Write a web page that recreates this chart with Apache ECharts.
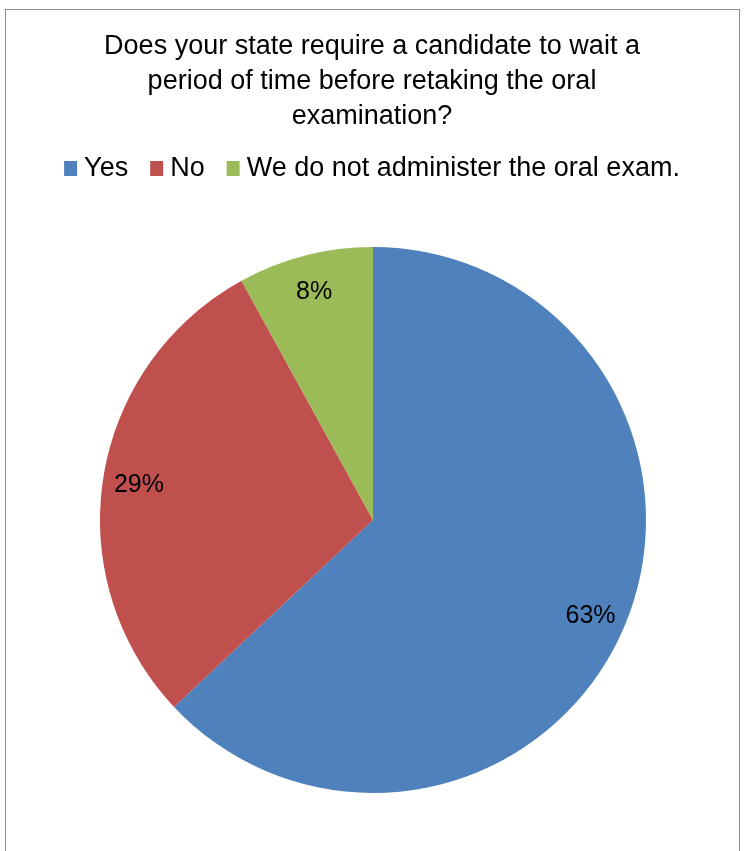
<!DOCTYPE html>
<html>
<head>
<meta charset="utf-8">
<script src="https://cdn.jsdelivr.net/npm/echarts@6/dist/echarts.min.js"></script>
<style>
html,body{margin:0;padding:0;background:#fff;}
#frame{position:absolute;left:5px;top:9px;width:735px;height:900px;border:1px solid #8c8c8c;box-sizing:border-box;}
#chart{position:absolute;left:0;top:0;width:744px;height:851px;}
</style>
</head>
<body>
<div id="frame"></div>
<div id="chart"></div>
<script>
const categories = ['Yes', 'No', 'We do not administer the oral exam.'];
const values = [63, 29, 8];
const colors = ['#4F81BD', '#C0504D', '#9BBB59'];
const titleText = 'Does your state require a candidate to wait a\nperiod of time before retaking the oral\nexamination?';

const FONT = '"Liberation Sans Narrow", "Liberation Sans", sans-serif';
const data = categories.map((c, i) => ({ name: c, value: values[i], itemStyle: { color: colors[i] } }));
const ringData = categories.map((c, i) => ({ name: c, value: values[i], itemStyle: { color: 'rgba(0,0,0,0)' } }));

const chart = echarts.init(document.getElementById('chart'));
chart.setOption({
  backgroundColor: 'transparent',
  animation: false,
  title: {
    text: titleText,
    left: 'center',
    top: 24,
    textStyle: { fontFamily: FONT, fontSize: 27, fontWeight: 'normal', color: '#000', lineHeight: 35 }
  },
  legend: {
    data: categories,
    top: 150,
    left: 'center',
    icon: 'rect',
    itemWidth: 13,
    itemHeight: 15,
    itemGap: 22,
    textStyle: { fontFamily: FONT, fontSize: 27, color: '#000', padding: [0, 0, 0, 2] }
  },
  series: [
    {
      type: 'pie',
      center: [373, 520],
      radius: [0, 273],
      startAngle: 90,
      clockwise: true,
      data: data,
      label: { show: false },
      labelLine: { show: false },
      itemStyle: { borderWidth: 0 },
      emphasis: { disabled: true }
    },
    {
      type: 'pie',
      silent: true,
      center: [373, 522],
      radius: [195, 273],
      startAngle: 90,
      clockwise: true,
      data: ringData,
      legendHoverLink: false,
      label: {
        show: true,
        position: 'inside',
        formatter: p => p.value + '%',
        fontFamily: FONT,
        fontSize: 25,
        color: '#000'
      },
      labelLine: { show: false },
      emphasis: { disabled: true }
    }
  ]
});
</script>
</body>
</html>
